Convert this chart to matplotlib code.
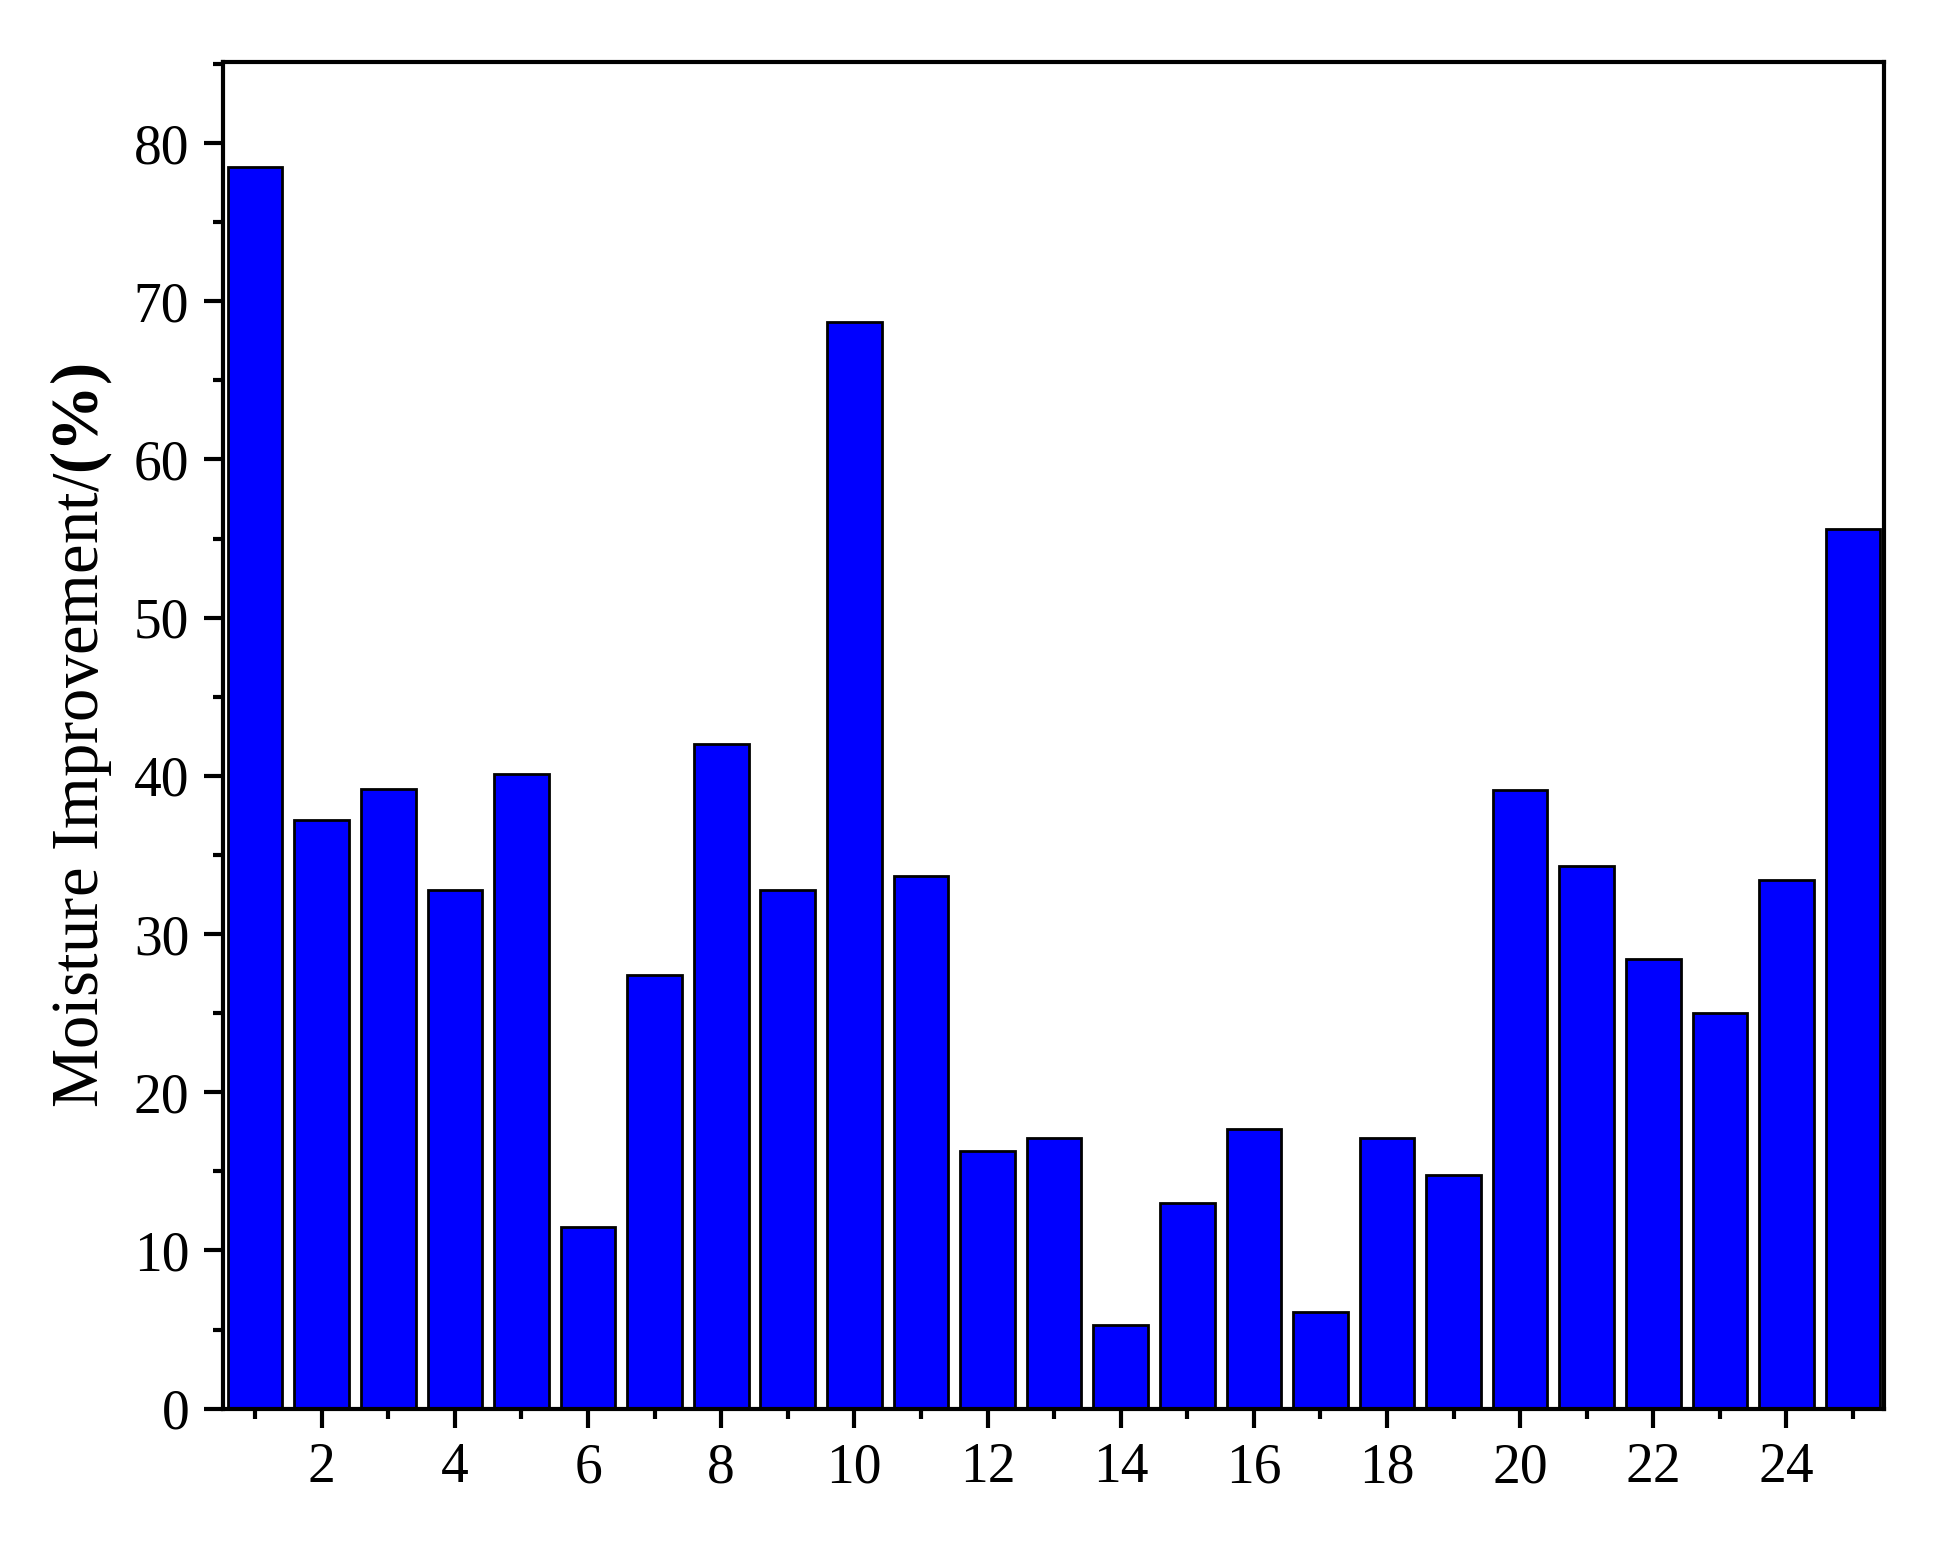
import matplotlib
matplotlib.use("Agg")
import matplotlib.pyplot as plt
from matplotlib.ticker import MultipleLocator

plt.rcParams["font.family"] = ["Liberation Serif", "DejaVu Serif"]
plt.rcParams["mathtext.fontset"] = "custom"
plt.rcParams["mathtext.rm"] = "Liberation Serif"
plt.rcParams["mathtext.bf"] = "Liberation Serif:bold"

samples = list(range(1, 26))
improvement = [78.5, 37.2, 39.2, 32.8, 40.1, 11.5, 27.4, 42.0, 32.8, 68.7,
               33.7, 16.3, 17.1, 5.3, 13.0, 17.7, 6.1, 17.1, 14.8, 39.1,
               34.3, 28.4, 25.0, 33.4, 55.6]

fig = plt.figure(figsize=(19.52, 15.6), dpi=100)
ax = fig.add_axes([0.114, 0.097, 0.851, 0.863])
ax.bar(samples, improvement, width=0.82, color="#0000ff", edgecolor="black", linewidth=2)
ax.set_xlim(0.51, 25.46)
ax.set_ylim(0, 85.1)
ax.xaxis.set_minor_locator(MultipleLocator(1))
ax.yaxis.set_major_locator(MultipleLocator(10))
ax.yaxis.set_minor_locator(MultipleLocator(5))
ax.set_xticks(range(2, 26, 2))
ax.tick_params(which="major", direction="out", length=14, width=3, labelsize=40, pad=10)
ax.tick_params(which="minor", direction="out", length=7, width=3)
for s in ax.spines.values():
    s.set_linewidth(3)
ax.set_ylabel(r"Moisture Improvement/$\mathbf{(\%)}$", fontsize=48, labelpad=14)
fig.savefig("out.png", dpi=100)
